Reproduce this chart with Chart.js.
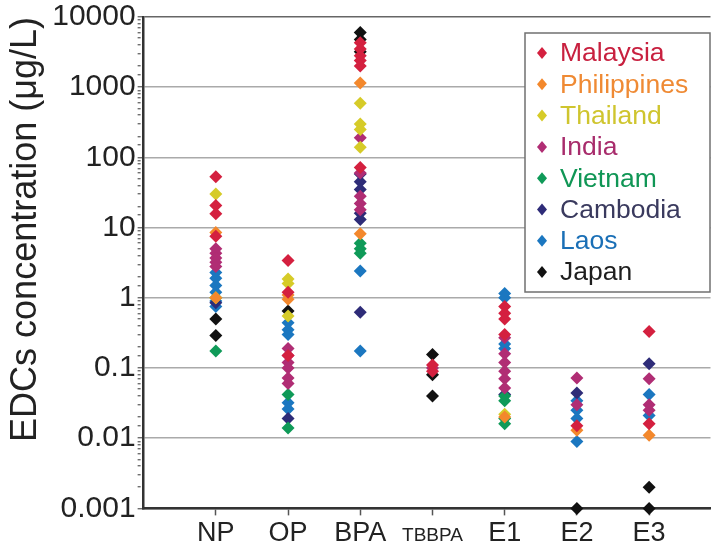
<!DOCTYPE html>
<html>
<head>
<meta charset="utf-8">
<script src="https://cdn.jsdelivr.net/npm/chart.js@4.4.0/dist/chart.umd.min.js"></script>
<style>
  html, body { margin: 0; padding: 0; background: #fff; }
  #wrap { width: 717px; height: 554px; position: relative; }
</style>
</head>
<body>
<div id="wrap"><canvas id="chart"></canvas></div>
<script>
// categories along the x axis
var categories = ['NP', 'OP', 'BPA', 'TBBPA', 'E1', 'E2', 'E3'];
var countries = ['Malaysia', 'Philippines', 'Thailand', 'India', 'Vietnam', 'Cambodia', 'Laos', 'Japan'];

// concentrations (ug/L), one list per category: NP, OP, BPA, TBBPA, E1, E2, E3
var malaysia = [[53, 20.6, 15.8, 7.5], [3.4, 1.2, 0.15], [4300, 3500, 2800, 2400, 2000, 72], [0.11, 0.09], [0.75, 0.6, 0.5, 0.3], [0.015], [0.33, 0.016]];
var philippines = [[8.5, 1.0], [0.95, 1.1], [1150, 8.2], [], [0.02], [0.013], [0.011]];
var thailand = [[30, 1.0], [1.85, 1.6, 0.55], [590, 300, 250, 140], [], [0.022], [], []];
var india = [[5.0, 4.3, 3.7, 3.2, 2.8], [0.19, 0.15, 0.12, 0.1, 0.072, 0.06], [190, 60, 28, 22, 18], [0.1], [0.27, 0.16, 0.12, 0.09, 0.07, 0.052], [0.072, 0.03], [0.07, 0.03, 0.025]];
var vietnam = [[0.175, 1.0], [0.042, 0.014], [6.0, 5.0, 4.3], [], [0.04, 0.034, 0.019, 0.016], [], []];
var cambodia = [[0.85], [0.019], [58, 45, 35, 16, 13, 0.62], [], [0.042], [0.044], [0.115]];
var laos = [[2.3, 1.9, 1.5, 1.2, 0.9, 0.75], [0.44, 0.35, 0.3, 0.032, 0.026], [2.4, 0.175], [], [1.15, 1.0, 0.22, 0.19], [0.034, 0.025, 0.019, 0.009], [0.042, 0.021]];
var japan = [[0.5, 0.29], [0.65], [6000, 4800, 3200], [0.155, 0.08, 0.04], [], [0.001], [0.002, 0.001]];

var yTicks = [0.001, 0.01, 0.1, 1, 10, 100, 1000, 10000];

var seriesValues = [malaysia, philippines, thailand, india, vietnam, cambodia, laos, japan];
var markerColors = ['#d4203f', '#f3882c', '#d6cb28', '#b02d74', '#0f9a58', '#2e2c78', '#1b77c0', '#111111'];
var textColors = ['#c8203f', '#ef8a34', '#cfc52e', '#a82c6c', '#109655', '#3a3a5e', '#1a6fb6', '#1e1e1e'];

var FONT = '"Liberation Sans", Arial, sans-serif';

function toPoints(values) {
  var pts = [];
  values.forEach(function(list, i) {
    list.forEach(function(v) { pts.push({x: i + 1, y: v}); });
  });
  return pts;
}

function isMajor(v) {
  return yTicks.some(function(t) { return Math.abs(v - t) / t < 1e-6; });
}

// legend drawn in a box inside the plot, text in series colours
var boxLegend = {
  id: 'boxLegend',
  beforeDatasetsDraw: function(chart) {
    var ctx = chart.ctx;
    var x = 525, y = 33, w = 185, h = 259;
    ctx.save();
    ctx.fillStyle = '#ffffff';
    ctx.fillRect(x, y, w, h);
    ctx.strokeStyle = '#707070';
    ctx.lineWidth = 1.5;
    ctx.strokeRect(x, y, w, h);
    ctx.font = '26.5px ' + FONT;
    ctx.textBaseline = 'middle';
    ctx.textAlign = 'left';
    chart.data.datasets.forEach(function(ds, i) {
      var cy = y + 20 + i * 31.3;
      var cx = x + 17;
      ctx.fillStyle = markerColors[i];
      ctx.beginPath();
      ctx.moveTo(cx, cy - 6);
      ctx.lineTo(cx + 5, cy);
      ctx.lineTo(cx, cy + 6);
      ctx.lineTo(cx - 5, cy);
      ctx.closePath();
      ctx.fill();
      ctx.fillStyle = textColors[i];
      ctx.fillText(ds.label, x + 35, cy + 1);
    });
    ctx.restore();
  }
};

var datasets = countries.map(function(name, i) {
  return {
    label: name,
    data: toPoints(seriesValues[i]),
    backgroundColor: markerColors[i],
    borderColor: markerColors[i],
    borderWidth: 0,
    pointStyle: 'rectRot',
    pointRadius: 6.5,
    showLine: false,
    clip: false
  };
});

new Chart(document.getElementById('chart'), {
  type: 'scatter',
  data: { datasets: datasets },
  plugins: [boxLegend],
  options: {
    responsive: true,
    maintainAspectRatio: false,
    animation: false,
    layout: { padding: { top: 16, right: 0, bottom: -3, left: 0 } },
    plugins: {
      legend: { display: false },
      tooltip: { enabled: false }
    },
    scales: {
      x: {
        type: 'linear',
        min: 0,
        max: 7.85,
        afterBuildTicks: function(scale) {
          scale.ticks = categories.map(function(c, i) { return {value: i + 1}; });
        },
        ticks: {
          autoSkip: false,
          maxRotation: 0,
          padding: 2,
          color: '#222',
          callback: function(v) { return categories[Math.round(v) - 1]; },
          font: function(c) {
            var lab = c.tick ? categories[Math.round(c.tick.value) - 1] : '';
            if (lab === 'TBBPA') return { family: FONT, size: 19, lineHeight: 1.98 };
            return { family: FONT, size: 27, lineHeight: 1.2 };
          }
        },
        grid: { drawOnChartArea: false, tickLength: 7, tickColor: '#555', tickWidth: 1.5 },
        border: { color: '#333', width: 2.5 }
      },
      y: {
        type: 'logarithmic',
        min: 0.001,
        max: 10000,
        title: {
          display: true,
          text: 'EDCs concentration (μg/L)',
          align: 'end',
          color: '#222',
          font: { family: FONT, size: 36 },
          padding: { top: 4, bottom: 3 }
        },
        ticks: {
          autoSkip: false,
          padding: 2,
          color: '#222',
          font: { family: FONT, size: 30, lineHeight: 1.0 },
          callback: function(v) {
            if (!isMajor(v)) return '';
            return String(Number(Number(v).toPrecision(1)));
          }
        },
        grid: {
          color: function(c) {
            if (!c.tick || !isMajor(c.tick.value)) return 'rgba(0,0,0,0)';
            return c.tick.value > 5000 ? '#666' : '#aaaaaa';
          },
          lineWidth: 1.5,
          tickLength: 6,
          tickColor: '#555',
          tickWidth: 1.2,
          tickBorderDash: function(c) {
            return c.tick && isMajor(c.tick.value) ? [] : [3, 60];
          }
        },
        border: { color: '#333', width: 2.5 }
      }
    }
  }
});
</script>
</body>
</html>
